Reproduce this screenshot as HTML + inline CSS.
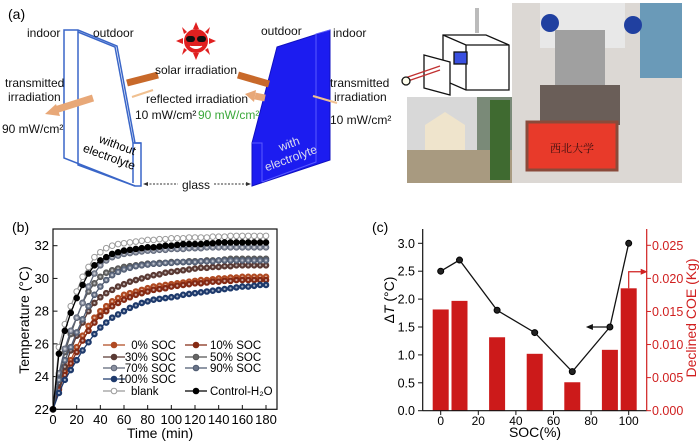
<!DOCTYPE html>
<html><head><meta charset="utf-8">
<style>
html,body{margin:0;padding:0;background:#fff;}
svg{display:block;font-family:"Liberation Sans",Arial,sans-serif;}
</style></head>
<body>
<svg id="fig" width="700" height="443" viewBox="0 0 700 443" xmlns="http://www.w3.org/2000/svg">
<!-- Panel (a) -->
<g>
<text x="8" y="19" font-size="14">(a)</text>
<g fill="none" stroke="#3a66c8" stroke-width="1.5">
<polygon points="64,30 78,30 117,46 135,143 141,143 141,186 135,186 64,158" fill="#fff"/>
<polyline points="78,30 78,165 135,186"/>
<polyline points="78,32 115,47 133,143 133,183"/>
<line x1="133" y1="143" x2="141" y2="143"/>
</g>
<text x="96" y="145" font-size="12" transform="rotate(20 105 150)"><tspan x="96" dy="0">without</tspan><tspan x="84" dy="14">electrolyte</tspan></text>
<g>
<polygon points="277,47 330,30 330,160 252,186 252,143" fill="#1c1cf0" stroke="#1010c0"/>
<polyline points="330,30 316,34 316,162 262,182" fill="none" stroke="#5a5aff" stroke-width="1"/>
<polyline points="252,143 262,143 262,182" fill="none" stroke="#5a5aff" stroke-width="1"/>
</g>
<text x="275" y="150" font-size="12" fill="#dde" transform="rotate(-20 285 155)"><tspan x="282" dy="0">with</tspan><tspan x="262" dy="14">electrolyte</tspan></text>
<g>
<g fill="#e02020">
<polygon points="196,22 193,29 199,29"/><polygon points="196,60 193,53 199,53"/>
<polygon points="176,41 183,38 183,44"/><polygon points="216,41 209,38 209,44"/>
<polygon points="182,27 187,32 184,34"/><polygon points="210,27 205,32 208,34"/>
<polygon points="182,55 187,50 184,48"/><polygon points="210,55 205,50 208,48"/>
</g>
<circle cx="196" cy="41" r="12" fill="#e02020"/>
<rect x="186" y="36" width="9" height="6" rx="3" fill="#111"/><rect x="197" y="36" width="9" height="6" rx="3" fill="#111"/>
<path d="M190 46 Q196 51 202 46" fill="#fff" stroke="#fff"/>
</g>
<g>
<line x1="127" y1="83" x2="158" y2="75" stroke="#c8692a" stroke-width="7"/>
<line x1="238" y1="75" x2="269" y2="84" stroke="#c8692a" stroke-width="7"/>
<line x1="93" y1="98" x2="55" y2="110" stroke="#e8a878" stroke-width="7"/>
<polygon points="45,114 56,104 60,116" fill="#e8a878"/>
<line x1="265" y1="98" x2="255" y2="96" stroke="#e8a878" stroke-width="7"/>
<polygon points="245,94 256,90 254,102" fill="#e8a878"/>
<line x1="132" y1="97" x2="153" y2="90" stroke="#f0c090" stroke-width="2"/>
<line x1="313" y1="96" x2="337" y2="103" stroke="#f0c090" stroke-width="2"/>
</g>
<g font-size="12" fill="#111">
<text x="27" y="37">indoor</text>
<text x="93" y="37">outdoor</text>
<text x="261" y="35">outdoor</text>
<text x="333" y="37">indoor</text>
<text x="196" y="74" text-anchor="middle">solar irradiation</text>
<text x="146" y="103">reflected irradiation</text>
<text x="135" y="119">10 mW/cm²</text>
<text x="198" y="119" fill="#3aa83a">90 mW/cm²</text>
<text x="5" y="87">transmitted</text>
<text x="8" y="101">irradiation</text>
<text x="2" y="133">90 mW/cm²</text>
<text x="330" y="87">transmitted</text>
<text x="334" y="101">irradiation</text>
<text x="330" y="124">10 mW/cm²</text>
<text x="196" y="189" text-anchor="middle">glass</text>
</g>
<g stroke="#333" stroke-dasharray="2,1.5" stroke-width="1">
<line x1="146" y1="184" x2="178" y2="184"/><line x1="214" y1="184" x2="248" y2="184"/>
</g>
<polygon points="143,184 148,182 148,186" fill="#333"/><polygon points="251,184 246,182 246,186" fill="#333"/>
<g fill="#fff" stroke="#111" stroke-width="1.3">
<polygon points="443,35 486,35 509,45 509,90 466,90 443,80"/>
<polyline points="443,35 466,45 509,45" fill="none"/><line x1="466" y1="45" x2="466" y2="90"/>
<polygon points="424,55 450,62 450,95 424,88"/>
<rect x="454" y="52" width="13" height="12" fill="#3a50e0"/>
<line x1="477" y1="8" x2="477" y2="33" stroke="#bbb" stroke-width="4"/>
<line x1="405" y1="82" x2="440" y2="70" stroke="#c03030"/><line x1="405" y1="78" x2="440" y2="66" stroke="#c03030"/>
<circle cx="406" cy="81" r="4" fill="#ffe"/>
</g>
<g>
<rect x="407" y="97" width="105" height="86" fill="#7a8a78"/>
<rect x="407" y="97" width="70" height="55" fill="#d8d8d8"/>
<polygon points="425,125 445,112 465,125 465,168 425,168" fill="#efe4cc"/>
<rect x="407" y="150" width="105" height="33" fill="#a89a80"/>
<rect x="490" y="100" width="20" height="80" fill="#3f6a30"/>
</g>
<g>
<rect x="512" y="3" width="170" height="180" fill="#dcd8d4"/>
<rect x="540" y="3" width="85" height="45" fill="#e8e8e8"/>
<rect x="640" y="3" width="42" height="75" fill="#6a9ab8"/>
<circle cx="550" cy="23" r="9" fill="#2040a0"/><circle cx="633" cy="25" r="9" fill="#2040a0"/>
<rect x="555" y="30" width="50" height="55" fill="#a0a0a0"/>
<rect x="540" y="85" width="80" height="40" fill="#6a5e58"/>
<rect x="527" y="122" width="90" height="48" fill="#e83a2a" stroke="#8a4a3a" stroke-width="3"/>
<text x="572" y="152" font-size="11" text-anchor="middle" fill="#3a1010" font-family="Liberation Serif, 'Noto Serif CJK SC', serif">西北大学</text>
</g>
</g>

<g id="pb"></g>
<g id="pc"></g>
</svg>
<script>
const NS="http://www.w3.org/2000/svg";
const timeStep=5;
const seriesNames=["0% SOC","10% SOC","30% SOC","50% SOC","70% SOC","90% SOC","100% SOC","blank","Control-H2O"];
const s0=[22,23.3,24.3,25.0,25.8,26.5,27.1,27.6,28.0,28.3,28.6,28.8,29.0,29.1,29.2,29.3,29.4,29.5,29.55,29.6,29.65,29.7,29.75,29.8,29.85,29.9,29.9,29.95,30.0,30.0,30.05,30.05,30.1,30.1,30.1,30.1,30.1];
const s10=[22,23.2,24.1,24.8,25.5,26.2,26.8,27.3,27.7,28.0,28.3,28.5,28.7,28.85,29.0,29.1,29.2,29.3,29.35,29.4,29.5,29.55,29.6,29.65,29.7,29.7,29.75,29.8,29.8,29.85,29.85,29.9,29.9,29.9,29.9,29.9,29.9];
const s30=[22,23.6,24.6,25.6,26.5,27.3,28.0,28.5,28.85,29.1,29.3,29.5,29.65,29.8,29.9,30.0,30.1,30.2,30.25,30.35,30.4,30.45,30.5,30.55,30.6,30.65,30.65,30.7,30.7,30.75,30.75,30.8,30.8,30.8,30.8,30.8,30.8];
const s50=[22,24.0,25.5,26.6,27.6,28.5,29.2,29.7,30.1,30.35,30.5,30.6,30.7,30.75,30.8,30.85,30.9,30.9,30.95,30.95,31.0,31.0,31.0,31.05,31.05,31.05,31.1,31.1,31.1,31.15,31.2,31.2,31.2,31.2,31.2,31.2,31.2];
const s70=[22,24.2,25.7,26.8,27.6,28.5,29.5,30.3,30.8,31.1,31.3,31.4,31.5,31.55,31.6,31.65,31.7,31.7,31.75,31.75,31.8,31.8,31.8,31.85,31.85,31.85,31.9,31.9,31.9,31.9,31.9,31.9,31.9,31.9,31.9,31.9,31.9];
const s90=[22,23.8,25.0,25.8,26.7,27.5,28.3,29.0,29.5,29.9,30.2,30.4,30.55,30.65,30.75,30.8,30.85,30.9,30.9,30.95,30.95,31.0,31.0,31.0,31.0,31.05,31.05,31.05,31.1,31.1,31.1,31.1,31.1,31.1,31.1,31.1,31.1];
const s100=[22,23.0,23.8,24.4,25.0,25.6,26.1,26.6,27.0,27.3,27.6,27.8,28.0,28.2,28.35,28.5,28.6,28.7,28.75,28.8,28.85,28.9,29.0,29.05,29.1,29.15,29.2,29.25,29.3,29.35,29.4,29.45,29.5,29.5,29.55,29.6,29.6];
const sBlank=[22,25.8,27.2,28.3,29.2,30.1,30.7,31.3,31.6,31.85,32.0,32.1,32.15,32.2,32.25,32.3,32.35,32.35,32.4,32.4,32.45,32.45,32.45,32.5,32.5,32.5,32.5,32.55,32.55,32.55,32.6,32.6,32.6,32.6,32.6,32.6,32.6];
const sCtrl=[22,25.4,26.8,27.9,28.8,29.6,30.3,30.8,31.1,31.3,31.5,31.6,31.7,31.75,31.8,31.85,31.9,31.9,31.95,32.0,32.0,32.05,32.1,32.1,32.1,32.1,32.15,32.15,32.2,32.2,32.2,32.2,32.2,32.2,32.2,32.2,32.2];
const bXTicks=[0,20,40,60,80,100,120,140,160,180];
const bYTicks=[22,24,26,28,30,32];

const socCats=[0,10,30,50,70,90,100];
const deltaT=[2.5,2.7,1.8,1.4,0.7,1.5,3.0];
const coe=[0.0153,0.0166,0.0111,0.0086,0.0043,0.0092,0.0185];
const cXTicks=[0,20,40,60,80,100];
const cYTicks=[0.0,0.5,1.0,1.5,2.0,2.5,3.0];
const cY2Ticks=[0.000,0.005,0.010,0.015,0.020,0.025];

function el(tag,attrs,parent,txt){const e=document.createElementNS(NS,tag);for(const k in attrs)e.setAttribute(k,attrs[k]);if(txt!==undefined)e.textContent=txt;parent.appendChild(e);return e;}

const pb=document.getElementById('pb');
const bx=v=>53+v*(266-53)/180;
const by=v=>409.3-(v-22)*16.36;
let t=el('text',{x:12,y:232,'font-size':14},pb,'(b)');


const bFrame=el('rect',{x:53,y:229,width:224,height:180.3,fill:'none',stroke:'#111','stroke-width':1.2},pb);


bXTicks.forEach(v=>{
  el('line',{x1:bx(v),x2:bx(v),y1:409.3,y2:405,stroke:'#111'},pb);
  const tx=el('text',{x:bx(v),y:424,'font-size':13,'text-anchor':'middle'},pb,String(v));
  
  
});
bYTicks.forEach(v=>{
  el('line',{x1:53,x2:57.5,y1:by(v),y2:by(v),stroke:'#111'},pb);
  const tx=el('text',{x:49,y:by(v)+4.5,'font-size':13,'text-anchor':'end'},pb,String(v));
  
  
});
t=el('text',{x:160,y:438,'font-size':14,'text-anchor':'middle'},pb,'Time (min)');


t=el('text',{x:0,y:0,'font-size':14,'text-anchor':'middle',transform:'translate(29,320) rotate(-90)'},pb,'Temperature (°C)');


const bSeries=[s0,s10,s30,s50,s70,s90,s100,sBlank,sCtrl];
const bColors=['#b04a22','#852a14','#5a3a34','#555555','#5e6678','#4e5a70','#1e3a6c','#9a9a9a','#000000'];
const bFills=['#b04a22','#852a14','#5a3a34','#666','#8a90a0','#6a7488','#1e3a6c','#ffffff','#000000'];
bSeries.forEach((arr,i)=>{
  const g=el('g',{},pb);
  
  
  const pts=arr.map((v,j)=>bx(j*timeStep)+','+by(v)).join(' ');
  el('polyline',{points:pts,fill:'none',stroke:bColors[i],'stroke-width':1.3},g);
  arr.forEach((v,j)=>{
    el('circle',{cx:bx(j*timeStep),cy:by(v),r:2.8,fill:bFills[i],stroke:bColors[i],'stroke-width':1},g);
    if(i<7) el('circle',{cx:bx(j*timeStep),cy:by(v),r:1.1,fill:'#fff',opacity:0.6},g);
  });
});
const legPos=[[103,345,'0% SOC',176],[185,345,'10% SOC',null],[103,357,'30% SOC',176],[185,357,'50% SOC',null],[103,368,'70% SOC',176],[185,368,'90% SOC',null],[103,379,'100% SOC',176],[103,391,'blank',null],[185,391,'Control-H₂O',null]];
legPos.forEach((p,i)=>{
  const g=el('g',{},pb);
  
  
  el('line',{x1:p[0],x2:p[0]+22,y1:p[1],y2:p[1],stroke:bColors[i],'stroke-width':1.3},g);
  el('circle',{cx:p[0]+11,cy:p[1],r:2.8,fill:bFills[i],stroke:bColors[i]},g);
  if(p[3]) el('text',{x:p[3],y:p[1]+4,'font-size':11.5,'text-anchor':'end'},g,p[2]);
  else el('text',{x:p[0]+(i===7?28:25),y:p[1]+4,'font-size':11.5},g,p[2]);
});

const pc=document.getElementById('pc');
const cx=v=>440.7+v*1.88;
const cy=v=>410.7-v*(410.7-243.3)/3;
const cy2=v=>410.7-v*(410.7-245.3)/0.025;
t=el('text',{x:372,y:232,'font-size':14},pc,'(c)');


socCats.forEach((s,i)=>{
  const r=el('rect',{x:cx(s)-8,y:cy2(coe[i]),width:16,height:410.7-cy2(coe[i]),fill:'#cc1a1a'},pc);
  
  
});
const lg=el('g',{},pc);


el('polyline',{points:socCats.map((s,i)=>cx(s)+','+cy(deltaT[i])).join(' '),fill:'none',stroke:'#111','stroke-width':1.3},lg);
socCats.forEach((s,i)=>{
  const c=el('circle',{cx:cx(s),cy:cy(deltaT[i]),r:3,fill:'#222',stroke:'#000'},lg);
  
  
});
el('line',{x1:422.7,x2:422.7,y1:229,y2:410.7,stroke:'#111','stroke-width':1.2},pc);
el('line',{x1:422.7,x2:646.7,y1:410.7,y2:410.7,stroke:'#111','stroke-width':1.2},pc);
el('line',{x1:646.7,x2:646.7,y1:229,y2:410.7,stroke:'#d02020','stroke-width':1.2},pc);
cXTicks.forEach(v=>{
  el('line',{x1:cx(v),x2:cx(v),y1:410.7,y2:415,stroke:'#111'},pc);
  const tx=el('text',{x:cx(v),y:425,'font-size':12,'text-anchor':'middle'},pc,String(v));
  
  
});
cYTicks.forEach(v=>{
  el('line',{x1:422.7,x2:418,y1:cy(v),y2:cy(v),stroke:'#111'},pc);
  const tx=el('text',{x:415,y:cy(v)+4.5,'font-size':12.5,'text-anchor':'end'},pc,v.toFixed(1));
  
  
});
cY2Ticks.forEach(v=>{
  el('line',{x1:646.7,x2:651,y1:cy2(v),y2:cy2(v),stroke:'#d02020'},pc);
  const tx=el('text',{x:652,y:cy2(v)+4.5,'font-size':12.5,fill:'#d02020'},pc,v.toFixed(3));
  
  
});
t=el('text',{x:535,y:437,'font-size':14,'text-anchor':'middle'},pc,'SOC(%)');


t=el('text',{x:0,y:0,'font-size':14,'text-anchor':'middle',transform:'translate(394,300) rotate(-90)'},pc);


el('tspan',{},t,'Δ');
el('tspan',{'font-style':'italic'},t,'T');
el('tspan',{},t,' (°C)');
t=el('text',{x:0,y:0,'font-size':14,'text-anchor':'middle',fill:'#d02020',transform:'translate(696,318) rotate(-90)'},pc,'Declined COE (Kg)');


el('line',{x1:cx(90)-2,x2:cx(90)-20,y1:cy(1.5),y2:cy(1.5),stroke:'#111','stroke-width':1.2},pc);
el('polygon',{points:`${cx(90)-24},${cy(1.5)} ${cx(90)-17},${cy(1.5)-3} ${cx(90)-17},${cy(1.5)+3}`,fill:'#111'},pc);
el('polyline',{points:`${cx(100)},${cy2(0.0185)} ${cx(100)},${cy2(0.021)} ${cx(100)+14},${cy2(0.021)}`,fill:'none',stroke:'#d02020','stroke-width':1.2},pc);
el('polygon',{points:`${cx(100)+19},${cy2(0.021)} ${cx(100)+12},${cy2(0.021)-3} ${cx(100)+12},${cy2(0.021)+3}`,fill:'#d02020'},pc);
</script>
</body></html>
